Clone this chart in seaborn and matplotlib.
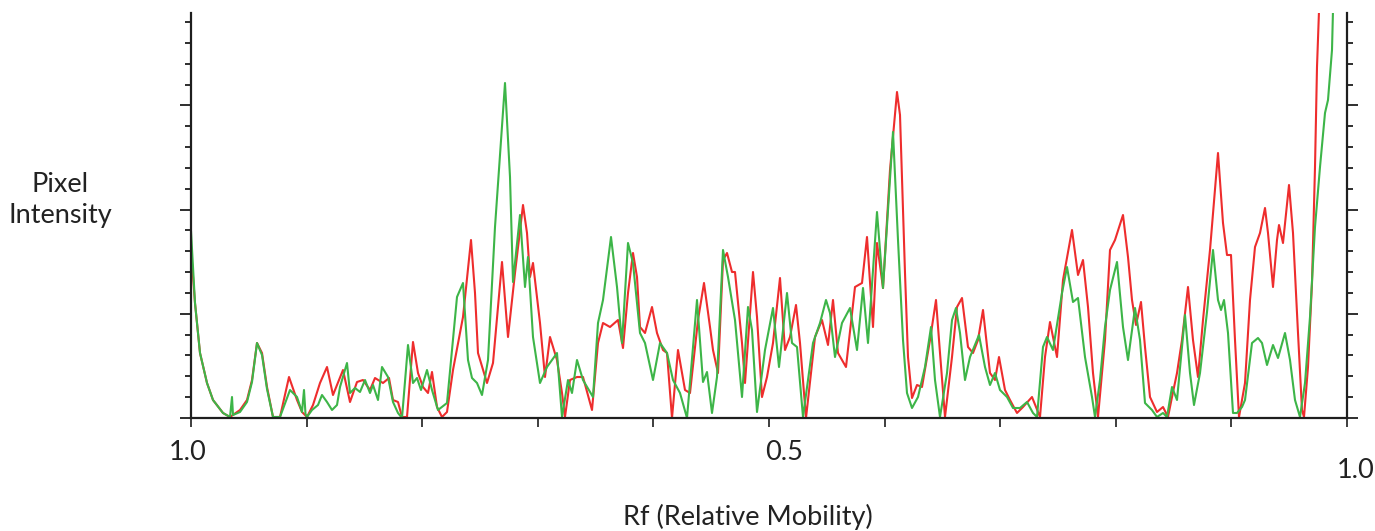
import numpy as np
import pandas as pd
import matplotlib
matplotlib.use("Agg")
import matplotlib.pyplot as plt
import matplotlib.transforms as mtransforms
from matplotlib.ticker import FixedLocator
import seaborn as sns

# ---- data (lane scan position, pixel intensity) ----
red_pos = [0, 4, 9, 16, 22, 32, 39, 49, 56, 61,
           66, 71, 76, 82, 89, 98, 106, 111, 116, 122,
           129, 136, 142, 152, 159, 166, 172, 179, 184, 192,
           198, 202, 207, 211, 216, 222, 227, 232, 237, 241,
           246, 251, 256, 262, 272, 280, 284, 287, 296, 302,
           311, 317, 324, 332, 336, 339, 342, 349, 354, 359,
           366, 371, 374, 379, 386, 392, 401, 407, 412, 419,
           427, 432, 437, 442, 446, 449, 454, 461, 466, 472,
           476, 481, 487, 494, 499, 507, 513, 519, 522, 527,
           532, 536, 541, 544, 551, 554, 562, 566, 571, 576,
           582, 589, 594, 599, 605, 609, 615, 624, 631, 637,
           642, 647, 655, 664, 671, 676, 682, 686, 692, 699,
           706, 709, 714, 717, 721, 726, 731, 739, 745, 749,
           754, 761, 766, 771, 777, 782, 787, 792, 799, 804,
           808, 814, 819, 826, 832, 841, 849, 854, 859, 866,
           872, 881, 887, 892, 897, 902, 907, 914, 919, 924,
           932, 937, 941, 945, 950, 954, 959, 966, 972, 977,
           981, 986, 991, 997, 1002, 1007, 1012, 1019, 1027, 1032,
           1036, 1040, 1044, 1048, 1054, 1059, 1064, 1069, 1074, 1077,
           1082, 1086, 1088, 1092, 1098, 1102, 1107, 1111, 1113, 1117,
           1121, 1124, 1126, 1128, 1130]
red_int = [168, 115, 65, 35, 18, 5, 1, 8, 18, 38,
           75, 65, 31, 1, 1, 41, 18, 6, 1, 13,
           35, 51, 23, 48, 16, 36, 38, 28, 40, 35,
           40, 18, 16, 1, 1, 76, 45, 31, 25, 46,
           11, 1, 6, 48, 101, 178, 125, 65, 35, 55,
           156, 81, 145, 213, 185, 141, 155, 95, 41, 81,
           58, 25, 1, 38, 41, 41, 8, 75, 95, 91,
           98, 70, 125, 165, 141, 91, 85, 111, 85, 68,
           65, 0, 68, 28, 25, 98, 135, 91, 68, 45,
           158, 165, 146, 146, 75, 35, 146, 101, 21, 41,
           75, 140, 68, 81, 113, 75, 0, 81, 98, 73,
           118, 65, 51, 131, 135, 181, 91, 175, 130, 248,
           326, 303, 145, 61, 20, 33, 31, 78, 118, 65,
           1, 61, 111, 120, 71, 65, 78, 108, 45, 38,
           61, 28, 18, 5, 11, 21, 1, 61, 96, 61,
           138, 188, 143, 158, 111, 45, 1, 78, 168, 178,
           203, 161, 118, 93, 116, 71, 21, 6, 11, 1,
           21, 45, 78, 131, 78, 41, 98, 168, 265, 195,
           163, 163, 78, 1, 35, 118, 171, 185, 210, 185,
           131, 178, 193, 175, 233, 185, 85, 8, 1, 51,
           135, 251, 351, 408, 460]

green_pos = [0, 4, 9, 16, 22, 32, 39, 41, 42, 49,
             56, 61, 66, 71, 76, 82, 89, 99, 106, 111,
             113, 114.5, 116, 121, 127, 131, 136, 141, 146, 149,
             156, 159, 164, 169, 174, 179, 182, 187, 191, 197,
             202, 207, 211, 217, 222, 226, 230, 236, 241, 247,
             256, 266, 272, 277, 281, 286, 291, 297, 304, 311,
             314, 319, 322, 329, 334, 337, 342, 349, 356, 366,
             371, 377, 381, 386, 392, 402, 407, 412, 420, 426,
             431, 437, 442, 449, 454, 462, 469, 476, 482, 489,
             496, 506, 512, 516, 521, 526, 532, 537, 544, 551,
             557, 561, 566, 574, 582, 588, 596, 601, 606, 612,
             622, 629, 635, 639, 644, 651, 659, 666, 672, 677,
             686, 692, 702, 707, 712, 716, 721, 727, 734, 740,
             744, 749, 756, 761, 765, 769, 774, 779, 788, 794,
             799, 804, 809, 816, 822, 829, 836, 842, 846, 852,
             856, 862, 871, 876, 882, 887, 894, 901, 904, 909,
             914, 919, 926, 932, 937, 944, 949, 954, 961, 966,
             972, 976, 981, 986, 994, 999, 1003, 1009, 1016, 1022,
             1027, 1030, 1033, 1037, 1042, 1046, 1051, 1054, 1061, 1067,
             1071, 1076, 1082, 1087, 1094, 1099, 1104, 1109, 1114, 1119,
             1124, 1129, 1134, 1137, 1141, 1142, 1144]
green_int = [187, 115, 65, 35, 18, 5, 1, 21, 3, 6,
             16, 36, 75, 63, 29, 1, 1, 28, 21, 6,
             28, 4, 1, 8, 13, 23, 16, 8, 13, 31,
             55, 25, 30, 26, 38, 25, 33, 18, 51, 41,
             16, 5, 0, 73, 35, 40, 28, 48, 28, 8,
             15, 121, 135, 58, 40, 35, 23, 58, 191, 291,
             335, 241, 136, 203, 131, 161, 81, 35, 51, 65,
             1, 38, 25, 58, 38, 21, 95, 118, 181, 131,
             75, 175, 155, 85, 75, 38, 75, 65, 38, 25,
             0, 118, 36, 46, 5, 41, 168, 141, 98, 21,
             111, 88, 6, 68, 110, 51, 125, 75, 71, 1,
             75, 95, 118, 105, 61, 95, 110, 68, 130, 75,
             206, 130, 286, 178, 78, 25, 10, 21, 51, 91,
             38, 1, 45, 98, 110, 85, 38, 61, 83, 51,
             33, 45, 28, 21, 10, 10, 16, 5, 1, 71,
             81, 68, 125, 151, 116, 120, 61, 21, 1, 38,
             91, 128, 156, 91, 58, 110, 78, 15, 8, 1,
             5, 1, 31, 18, 103, 45, 13, 45, 106, 168,
             118, 108, 118, 85, 5, 5, 11, 18, 75, 80,
             75, 53, 73, 60, 85, 58, 18, 1, 35, 101,
             191, 251, 305, 318, 368, 408, 460]

x_tick_labels = ["1.0", "", "", "", "", "0.5", "", "", "", "", "1.0"]
lane_names = ["Red lane", "Green lane"]
lane_colors = {"Red lane": "#ee2d2d", "Green lane": "#3db548"}

LANE_LEN = 1156.0
INT_MAX = 405.0
MINOR_STEP = 20.84

# ---- figure ----
sns.set_theme(style="white")
plt.rcParams["font.family"] = ["Lato", "DejaVu Sans"]

df = pd.concat([
    pd.DataFrame({"pos": red_pos, "intensity": red_int, "lane": lane_names[0]}),
    pd.DataFrame({"pos": green_pos, "intensity": green_int, "lane": lane_names[1]}),
], ignore_index=True)

fig = plt.figure(figsize=(13.75, 5.31), dpi=100)
ax = fig.add_axes([191 / 1375, 113 / 531, 1156 / 1375, 405 / 531])

sns.lineplot(data=df, x="pos", y="intensity", hue="lane", palette=lane_colors,
             estimator=None, sort=False, legend=False, linewidth=1.5, ax=ax)
for ln in ax.get_lines():
    ln.set_solid_joinstyle("round")
    ln.set_solid_capstyle("round")

ax.set_xlim(0, LANE_LEN)
ax.set_ylim(0, INT_MAX)

spine_col = "#1e1e1e"
for side in ["left", "right", "bottom"]:
    ax.spines[side].set_visible(True)
    ax.spines[side].set_color(spine_col)
    ax.spines[side].set_linewidth(1.6)
ax.spines["top"].set_visible(False)

xt = np.linspace(0, LANE_LEN, len(x_tick_labels))
ax.set_xticks(xt)
ax.set_xticklabels(x_tick_labels)

major_y = np.arange(0, 4) * MINOR_STEP * 5
minor_y = [v for v in np.arange(0, 20) * MINOR_STEP if not np.any(np.isclose(v, major_y))]
ax.yaxis.set_major_locator(FixedLocator(major_y))
ax.yaxis.set_minor_locator(FixedLocator(minor_y))

ax.tick_params(axis="x", which="major", direction="out", length=6.5, width=1.2,
               color=spine_col, bottom=True, labelsize=19.5, labelcolor="#222222", pad=9)
ax.tick_params(axis="y", which="major", direction="out", length=8, width=1.3,
               color=spine_col, left=True, right=True, labelleft=False, labelright=False)
ax.tick_params(axis="y", which="minor", direction="out", length=4.3, width=1.3,
               color=spine_col, left=True, right=True)

# nudge tick labels as in the original
offsets = {0: (-3, 0), 5: (15, 0), 10: (9, -18)}
for i, lab in enumerate(ax.get_xticklabels()):
    if i in offsets:
        dx, dy = offsets[i]
        lab.set_transform(lab.get_transform() +
                          mtransforms.ScaledTranslation(dx / 100, dy / 100, fig.dpi_scale_trans))

ax.set_xlabel("Rf (Relative Mobility)", fontsize=19.5, color="#222222")
ax.xaxis.set_label_coords((748 - 191) / 1156, (418 - 517) / 405)
ax.xaxis.label.set_va("center")
ax.set_ylabel("Pixel\nIntensity", fontsize=19.5, color="#222222", rotation=0,
              ha="center", va="center", multialignment="center", linespacing=1.35)
ax.yaxis.set_label_coords((60 - 191) / 1156, (418 - 200) / 405)

ax.grid(False)
fig.savefig("out.png", dpi=100)
